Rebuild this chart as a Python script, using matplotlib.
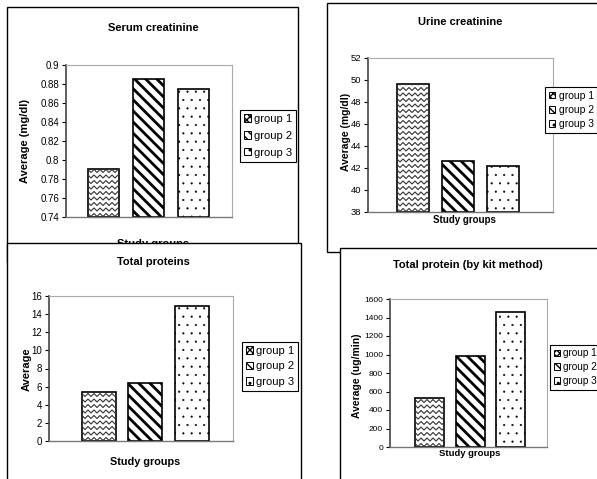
import matplotlib
matplotlib.use("Agg")
import matplotlib.pyplot as plt
import numpy as np
from matplotlib.patches import Rectangle, Patch
from matplotlib.lines import Line2D
from matplotlib.transforms import IdentityTransform

plt.rcParams['font.family'] = ['Liberation Sans', 'DejaVu Sans']

# ===  data

groups = ['group 1', 'group 2', 'group 3']

serum_creatinine = [0.79, 0.885, 0.875]
urine_creatinine = [49.6, 42.6, 42.2]
total_proteins = [5.4, 6.4, 14.9]
total_protein_kit = [525, 985, 1460]

serum_ticks = [0.74, 0.76, 0.78, 0.8, 0.82, 0.84, 0.86, 0.88, 0.9]
urine_ticks = [38, 40, 42, 44, 46, 48, 50, 52]
proteins_ticks = [0, 2, 4, 6, 8, 10, 12, 14, 16]
kit_ticks = [0, 200, 400, 600, 800, 1000, 1200, 1400, 1600]

titles = ['Serum creatinine', 'Urine creatinine', 'Total proteins',
          'Total protein (by kit method)']
ylabels = ['Average (mg/dl)', 'Average (mg/dl)', 'Average', 'Average (ug/min)']
xlabel = 'Study groups'

# ===  layout (pixels in a 597 x 479 picture)

W, H = 597, 479

def fx(x):
    return x / W

def fy(y):
    return 1 - y / H

# box = panel frame (l, t, r, b); ax = plot area (l, t, r, b)
layout = [
    dict(box=(7, 7, 298, 262), ax=(66, 65, 232, 217), c1=103.5, sp=44.75, bw=31,
         title=(153, 28), ylab=(25, 141), xlab=(153, 244), leg=(240, 110),
         fs_lab=8, fs_x=8, fs_tick=7, fs_leg=8, lspace=0.62),
    dict(box=(327, 3, 640, 252), ax=(368, 58, 553, 212), c1=413, sp=44.75, bw=32,
         title=(460, 22), ylab=(346, 132), xlab=(464, 220), leg=(545, 87),
         fs_lab=7.5, fs_x=7, fs_tick=6.8, fs_leg=7.5, lspace=0.42),
    dict(box=(7, 243, 301, 520), ax=(49, 296, 233, 441), c1=99, sp=46.25, bw=34,
         title=(153, 262), ylab=(27, 369), xlab=(145, 462), leg=(242, 342),
         fs_lab=8, fs_x=7.8, fs_tick=7, fs_leg=8, lspace=0.5),
    dict(box=(340, 248, 640, 520), ax=(390, 299, 547, 447), c1=429.5, sp=40.5, bw=29,
         title=(468, 265), ylab=(357, 376), xlab=(470, 453), leg=(550, 345),
         fs_lab=7.5, fs_x=6.8, fs_tick=6, fs_leg=7.2, lspace=0.38),
]

values = [serum_creatinine, urine_creatinine, total_proteins, total_protein_kit]
ticks = [serum_ticks, urine_ticks, proteins_ticks, kit_ticks]

hatches = [None, '\\\\\\', '..']


def hatch_lw(p, lw):
    if hasattr(p, 'set_hatch_linewidth'):
        p.set_hatch_linewidth(lw)


def add_zigzag(ax, bar):
    bb = bar.get_window_extent()
    xs = np.arange(bb.x0 - 3, bb.x1 + 4, 3.0)
    up = np.where(np.arange(len(xs)) % 2 == 0, -1.5, 1.5)
    for yy in np.arange(bb.y0 + 2, bb.y1 + 4, 5.5):
        ln = Line2D(xs, yy + up, transform=IdentityTransform(), color='#333333',
                    lw=0.8, zorder=3)
        ax.add_artist(ln)
        ln.set_clip_path(bar)  # after add_artist, which would clip to axes


fig = plt.figure(figsize=(W / 100, H / 100), dpi=100)

for i, (L, vals, tks) in enumerate(zip(layout, values, ticks)):
    z = 2 * i + 1
    l, t, r, b = L['box']
    frame = Rectangle((fx(l), fy(b)), fx(r) - fx(l), fy(t) - fy(b),
                      transform=fig.transFigure, facecolor='white',
                      edgecolor='black', lw=1.0, zorder=z)
    fig.add_artist(frame)

    al, at, ar, ab = L['ax']
    ax = fig.add_axes([fx(al), fy(ab), fx(ar) - fx(al), fy(at) - fy(ab)])
    ax.set_zorder(z + 1)

    x = np.arange(len(vals))
    ax.set_xlim((al - L['c1']) / L['sp'], (ar - L['c1']) / L['sp'])
    ax.set_ylim(tks[0], tks[-1])
    bars = ax.bar(x, [v - tks[0] for v in vals], bottom=tks[0],
                  width=L['bw'] / L['sp'], color='white', edgecolor='black',
                  lw=1.2, zorder=2)
    for j, bar in enumerate(bars):
        if hatches[j]:
            bar.set_hatch(hatches[j])
            hatch_lw(bar, 2.0 if j == 1 else 0.3)
        else:
            add_zigzag(ax, bar)

    ax.set_xticks([])
    ax.set_yticks(tks)
    ax.set_yticklabels(['{:g}'.format(v) for v in tks])
    ax.tick_params(axis='y', length=3, width=0.8, pad=2, labelsize=L['fs_tick'])
    ax.spines['left'].set_color('#444444')
    ax.spines['left'].set_linewidth(1.2)
    ax.spines['bottom'].set_color('#777777')
    ax.spines['bottom'].set_linewidth(1.0)
    for s in ['top', 'right']:
        ax.spines[s].set_color('#aaaaaa')
        ax.spines[s].set_linewidth(0.8)

    tx, ty = L['title']
    ax.text(fx(tx), fy(ty), titles[i], transform=fig.transFigure, ha='center',
            va='center', fontsize=8, fontweight='bold')
    yx, yy = L['ylab']
    ax.text(fx(yx), fy(yy), ylabels[i], transform=fig.transFigure, ha='center',
            va='center', rotation=90, fontsize=L['fs_lab'], fontweight='bold')
    xx, xy = L['xlab']
    ax.text(fx(xx), fy(xy), xlabel, transform=fig.transFigure, ha='center',
            va='center', fontsize=L['fs_x'], fontweight='bold')

    handles = []
    for j, hh in enumerate(['xxxxx', '\\\\\\\\', '..']):
        p = Patch(facecolor='white', edgecolor='black', hatch=hh, lw=0.7)
        hatch_lw(p, 1.2 if j == 1 else 0.4)
        handles.append(p)
    lx, ly = L['leg']
    leg = ax.legend(handles, groups, loc='upper left',
                    bbox_to_anchor=(fx(lx), fy(ly)), bbox_transform=fig.transFigure,
                    fancybox=False, edgecolor='black', framealpha=1,
                    fontsize=L['fs_leg'], handlelength=0.65, handleheight=0.65,
                    handletextpad=0.3, labelspacing=L['lspace'], borderpad=0.35,
                    borderaxespad=0)
    leg.get_frame().set_linewidth(0.8)

fig.savefig('out.png', dpi=100)
